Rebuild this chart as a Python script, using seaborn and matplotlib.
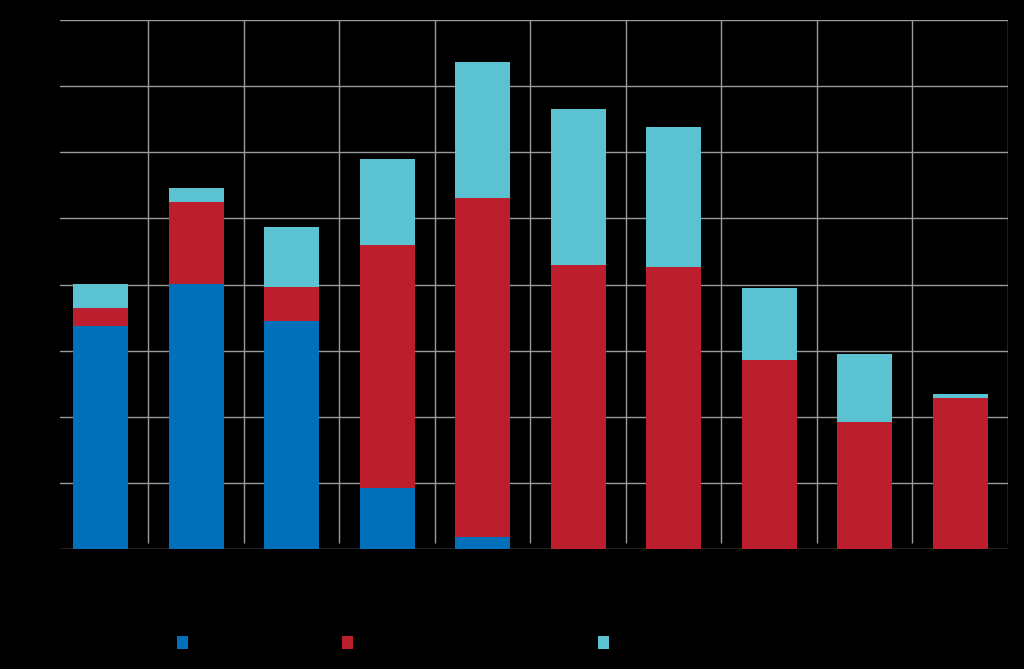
import numpy as np
import pandas as pd
import matplotlib
matplotlib.use("Agg")
import matplotlib.pyplot as plt
from matplotlib.patches import Patch
import seaborn as sns

categories = ["2014", "2015", "2016", "2017", "2018", "2019", "2020", "2021", "2022", "2023"]
series_a = [33.7, 40.1, 34.5, 9.2, 1.8, 0.0, 0.0, 0.0, 0.0, 0.0]
series_b = [2.7, 12.4, 5.1, 36.8, 51.3, 43.0, 42.7, 28.6, 19.2, 22.8]
series_c = [3.6, 2.1, 9.1, 13.0, 20.6, 23.6, 21.1, 10.9, 10.3, 0.7]
series_names = ["Series A", "Series B", "Series C"]
y_ticks = [0, 10, 20, 30, 40, 50, 60, 70, 80]

colors = ["#0070BA", "#BC1E2D", "#5BC2D1"]
bg = "#000000"
text_color = "#000000"

sns.set_theme(style="dark")
plt.rcParams["font.family"] = ["DejaVu Sans"]

df = pd.DataFrame({"cat": categories, "a": series_a, "b": series_b, "c": series_c})
df["ab"] = df["a"] + df["b"]
df["abc"] = df["ab"] + df["c"]

fig = plt.figure(figsize=(10.24, 6.69), dpi=100, facecolor=bg)
ax = fig.add_axes([60 / 1024, 1 - 549 / 669, (1008 - 60) / 1024, (549 - 20) / 669])
ax.set_facecolor(bg)

w = 0.576
sns.barplot(data=df, x="cat", y="abc", color=colors[2], width=w, saturation=1, ax=ax, zorder=3)
sns.barplot(data=df, x="cat", y="ab", color=colors[1], width=w, saturation=1, ax=ax, zorder=3)
sns.barplot(data=df, x="cat", y="a", color=colors[0], width=w, saturation=1, ax=ax, zorder=3)
for p in ax.patches:
    p.set_linewidth(0)

ax.set_xlim(-0.424, 9.5)
ax.set_ylim(0, 80)
ax.set_yticks(y_ticks)
ax.yaxis.grid(True, color="#9a9a9a", linewidth=1.0, zorder=0)
ax.xaxis.grid(False)
ax.vlines(np.arange(0.5, 10.0, 1.0), 0.9, 80, color="#9a9a9a", linewidth=1.0, zorder=0)
for s in ax.spines.values():
    s.set_visible(False)
ax.set_xlabel("")
ax.set_ylabel("")
ax.tick_params(axis="both", colors=text_color, labelcolor=text_color, labelsize=11, length=0)

legend_x = [177, 342, 598]
for name, col, lx in zip(series_names, colors, legend_x):
    leg = fig.legend([Patch(facecolor=col, edgecolor="none")], [name], loc="center left",
                     bbox_to_anchor=(lx / 1024, 1 - 643 / 669), frameon=False,
                     labelcolor=text_color, fontsize=11, handlelength=0.7, handleheight=0.9,
                     handletextpad=0.6, borderpad=0, borderaxespad=0)
    fig.add_artist(leg)

fig.savefig("out.png", dpi=100, facecolor=bg)
